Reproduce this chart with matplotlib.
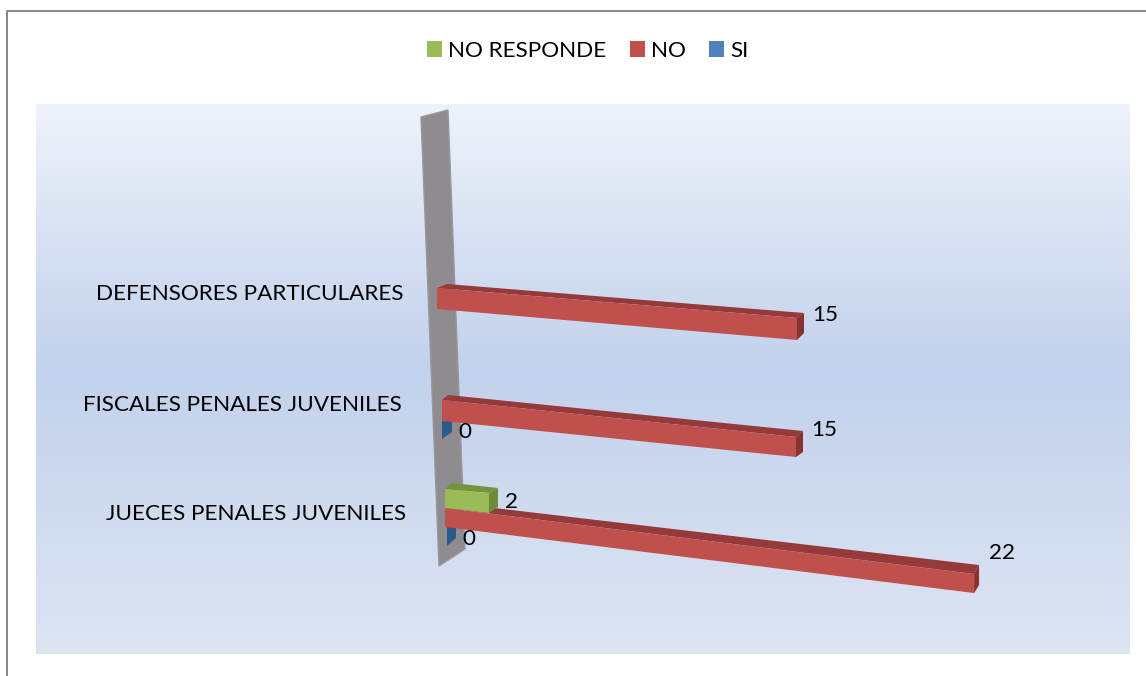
import numpy as np
import matplotlib
matplotlib.use("Agg")
import matplotlib.pyplot as plt
from matplotlib.patches import Patch, Polygon

plt.rcParams['font.family'] = ['Lato', 'DejaVu Sans']

# ---- data ----
categories = ["JUECES PENALES JUVENILES", "FISCALES PENALES JUVENILES", "DEFENSORES PARTICULARES"]
si = [0, 0, None]
no = [22, 15, 15]
no_responde = [2, None, None]
legend_labels = ["NO RESPONDE", "NO", "SI"]

# ---- colours ----
RED = ("#C0504D", "#95393A", "#86322F")
GREEN = ("#9BBB59", "#76923C", "#6E8B3A")
BLUE = ("#2C5A8E", "#244A76", "#2C5A8E")
LEG = {"NO RESPONDE": "#9BBB59", "NO": "#C0504D", "SI": "#4F81BD"}
WALL = "#8E8B91"

# ---- 3-D look: one perspective layout per bar (pixels of the picture) ----
# x0, top0, bot0, px per unit, top slope, bottom slope, start depth, end depth (dx, dy top, dy bottom)
LAYOUT_NO = [
    dict(x0=445, top=508, bot=527, scale=24.05, st=.1248, sb=.1248, start=(7, -5), end=(5, -9, -8)),
    dict(x0=442, top=400, bot=421, scale=23.6, st=.1045, sb=.1017, start=(6, -5), end=(7, -6, -5)),
    dict(x0=437, top=288, bot=309, scale=24.0, st=.0833, sb=.0861, start=(10, -4), end=(7, -5, -7)),
]
LAYOUT_NR = [dict(x0=445, top=489, bot=508, scale=22.0, st=.0909, sb=.1136, start=(7, -6), end=(9, -5, -6)), None, None]
LAYOUT_SI = [
    dict(x0=447, top=522, bot=546, scale=24.0, st=0, sb=0, start=(9, -2), end=(9, -2, -8)),
    dict(x0=442, top=416, bot=439, scale=24.0, st=0, sb=0, start=(10, -2), end=(10, -2, -7)),
    None,
]
# data-label offset from the bar's far top corner
LABEL_NO = [(23, -12), (21, -1), (21, 2)]
LABEL_NR = [(13, 14), None, None]
LABEL_SI = [(13, 19), (13, 18), None]
CAT_POS = [(406, 514), (402, 405), (403, 294)]

FS = 16.2

fig = plt.figure(figsize=(11.46, 6.76), dpi=100)
ax = fig.add_axes([0, 0, 1, 1])
ax.set_xlim(0, 1146)
ax.set_ylim(676, 0)
ax.axis("off")

# plot-area gradient
stops_y = [0.0, 0.48, 1.0]
stops = np.array([[0xEE, 0xF2, 0xFA], [0xC2, 0xD1, 0xEC], [0xDD, 0xE5, 0xF3]]) / 255
t = np.linspace(0, 1, 256)
grad = np.stack([np.interp(t, stops_y, stops[:, i]) for i in range(3)], axis=1)[:, None, :]
ax.imshow(grad, extent=(36, 1130, 654, 104), aspect="auto", zorder=0, interpolation="bilinear")
ax.set_xlim(0, 1146)
ax.set_ylim(676, 0)

# outer frame
ax.plot([6.5, 6.5, 1146], [676, 10.5, 10.5], color="#868686", lw=1.4, zorder=1, solid_capstyle="butt")

# back wall
ax.add_patch(Polygon([(421, 117), (448, 110), (465, 549), (439, 566)], closed=True,
                     facecolor=WALL, edgecolor="#9A979D", lw=1, zorder=2))


def box(value, g, cols, z):
    x1 = g["x0"] + value * g["scale"]
    top1 = g["top"] + g["st"] * (x1 - g["x0"])
    bot1 = g["bot"] + g["sb"] * (x1 - g["x0"])
    dx, dyt, dyb = g["end"]
    sx, sy = g["start"]
    front, topc, side = cols
    ax.add_patch(Polygon([(g["x0"], g["top"]), (x1, top1), (x1 + dx, top1 + dyt), (g["x0"] + sx, g["top"] + sy)],
                         closed=True, facecolor=topc, edgecolor="none", zorder=z))
    ax.add_patch(Polygon([(x1, top1), (x1, bot1), (x1 + dx, bot1 + dyb), (x1 + dx, top1 + dyt)],
                         closed=True, facecolor=side, edgecolor="none", zorder=z))
    ax.add_patch(Polygon([(g["x0"], g["top"]), (x1, top1), (x1, bot1), (g["x0"], g["bot"])],
                         closed=True, facecolor=front, edgecolor="none", zorder=z))
    return x1 + dx, top1 + dyt


def series(vals, layouts, offsets, cols, z):
    for v, g, off in zip(vals, layouts, offsets):
        if v is None:
            continue
        ex, ey = box(v, g, cols, z)
        ax.text(ex + off[0], ey + off[1], str(v), fontsize=FS, color="black",
                ha="center", va="center", zorder=10)


series(si, LAYOUT_SI, LABEL_SI, BLUE, 3)
series(no, LAYOUT_NO, LABEL_NO, RED, 4)
series(no_responde, LAYOUT_NR, LABEL_NR, GREEN, 5)

# category labels
for c, (x, y) in zip(categories, CAT_POS):
    ax.text(x, y, c, fontsize=FS, color="black", ha="right", va="center", zorder=10)

# legend
handles = [Patch(facecolor=LEG[k], edgecolor="none", label=k) for k in legend_labels]
ax.legend(handles=handles, ncols=3, loc="center", bbox_to_anchor=(587.5 / 1146, 1 - 51 / 676),
          bbox_transform=fig.transFigure, frameon=False, fontsize=FS,
          handlelength=0.667, handleheight=0.667, handletextpad=0.27, columnspacing=1.04,
          borderpad=0, labelcolor="black")

fig.savefig("out.png", dpi=100)
